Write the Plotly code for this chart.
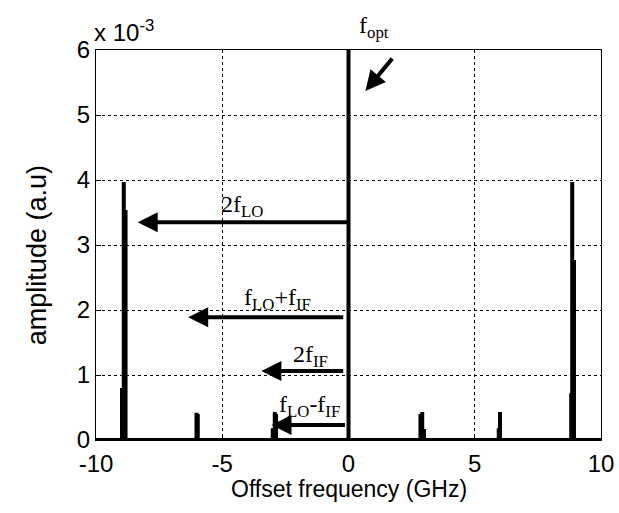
import plotly.graph_objects as go

# spectral lines: offset frequency (GHz) and amplitude (a.u.)
freqs = [-8.97, -8.9, -8.83, -6.02, -5.97, -3.0, -2.92, -2.87, 0.0,
         2.85, 2.92, 2.99, 5.95, 6.0, 8.82, 8.86, 8.93]
amps = [0.80e-3, 3.97e-3, 3.54e-3, 0.42e-3, 0.40e-3, 0.18e-3, 0.43e-3, 0.40e-3, 6.2e-3,
        0.40e-3, 0.43e-3, 0.17e-3, 0.18e-3, 0.43e-3, 0.72e-3, 3.97e-3, 2.77e-3]

x_tickvals = [-10, -5, 0, 5, 10]
x_ticktext = ["-10", "-5", "0", "5", "10"]
y_tickvals = [0, 1e-3, 2e-3, 3e-3, 4e-3, 5e-3, 6e-3]
y_ticktext = ["0", "1", "2", "3", "4", "5", "6"]

# arrows: label, tail x, head x, y, label position
arrow_labels = ["2f<sub>LO</sub>", "f<sub>LO</sub>+f<sub>IF</sub>", "2f<sub>IF</sub>", "f<sub>LO</sub>-f<sub>IF</sub>"]
arrow_tail_x = [0.0, -0.15, -0.15, -0.08]
arrow_head_x = [-8.35, -6.35, -3.45, -3.05]
arrow_y = [3.35e-3, 1.89e-3, 1.06e-3, 0.23e-3]
label_x = [-4.2, -2.8, -1.5, -1.55]
label_y = [3.6e-3, 2.17e-3, 1.3e-3, 0.52e-3]

# build the spectrum trace (baseline plus vertical lines)
xs, ys = [-10], [0]
for f, a in sorted(zip(freqs, amps)):
    xs += [f, f, f]
    ys += [0, a, 0]
xs.append(10)
ys.append(0)

fig = go.Figure()
fig.add_trace(go.Scatter(x=xs, y=ys, mode="lines",
                         line=dict(color="black", width=4), hoverinfo="skip"))

serif = dict(family="Liberation Serif, Times New Roman, serif", size=24, color="black")
sans = "Liberation Sans, Arial, sans-serif"

ann = []
for lab, tx, hx, yy, lx, ly in zip(arrow_labels, arrow_tail_x, arrow_head_x, arrow_y, label_x, label_y):
    ann.append(dict(x=hx, y=yy, ax=tx, ay=yy, xref="x", yref="y", axref="x", ayref="y",
                    text="", showarrow=True, arrowhead=2, arrowsize=1.0, arrowwidth=4,
                    arrowcolor="black", standoff=0, startstandoff=0))
    ann.append(dict(x=lx, y=ly, xref="x", yref="y", text=lab, showarrow=False,
                    font=serif, xanchor="center", yanchor="middle"))

# f_opt arrow
ann.append(dict(x=0.67, y=5.37e-3, ax=1.78, ay=5.89e-3, xref="x", yref="y", axref="x", ayref="y",
                text="", showarrow=True, arrowhead=2, arrowsize=1.0, arrowwidth=4,
                arrowcolor="black", standoff=0, startstandoff=0))
ann.append(dict(x=1.0, y=1.0, xref="x", yref="paper", text="f<sub>opt</sub>", showarrow=False,
                font=serif, xanchor="center", yanchor="bottom", yshift=6))
# exponent label
ann.append(dict(x=0.0, y=1.0, xref="paper", yref="paper", text="x 10<sup>-3</sup>",
                showarrow=False, xanchor="left", yanchor="bottom", yshift=2, xshift=-4,
                font=dict(family=sans, size=24, color="black")))
# y-axis title
ann.append(dict(x=-0.118, y=0.475, xref="paper", yref="paper", text="amplitude (a.u)",
                showarrow=False, textangle=-90, xanchor="center", yanchor="middle",
                font=dict(family=sans, size=27, color="black")))
# x-axis title
ann.append(dict(x=0.5, y=-0.125, xref="paper", yref="paper", text="Offset frequency (GHz)",
                showarrow=False, xanchor="center", yanchor="middle",
                font=dict(family=sans, size=23, color="black")))

axis_common = dict(showline=True, linecolor="black", linewidth=1, mirror=True,
                   ticks="inside", ticklen=5, tickcolor="black",
                   showgrid=True, gridcolor="black", gridwidth=1, griddash="3px,3px",
                   zeroline=False, automargin=False,
                   tickfont=dict(family=sans, size=24, color="black"))

fig.update_layout(
    width=619, height=513,
    margin=dict(l=96, r=18, t=50, b=73),
    paper_bgcolor="white", plot_bgcolor="white",
    showlegend=False,
    annotations=ann,
    xaxis=dict(range=[-10, 10], tickvals=x_tickvals, ticktext=x_ticktext, **axis_common),
    yaxis=dict(range=[0, 6e-3], tickvals=y_tickvals, ticktext=y_ticktext, **axis_common),
)
fig.update_xaxes(ticklabelstandoff=2)
fig.update_yaxes(ticklabelstandoff=0)

# remove the browser's default page margin so the figure fills the window
fig.write_html("out.html", config={"displayModeBar": False},
               post_script="document.body.style.margin='0';document.body.style.overflow='hidden';")
